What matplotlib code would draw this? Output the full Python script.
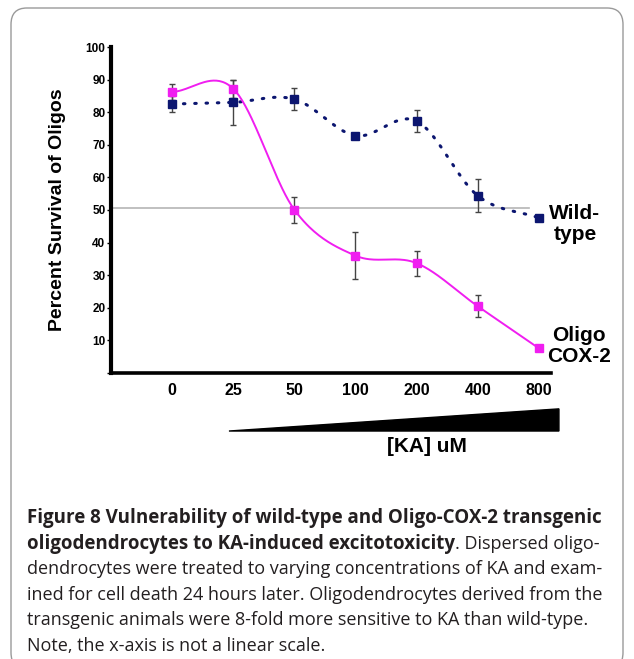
import numpy as np
import matplotlib
matplotlib.use('Agg')
import matplotlib.pyplot as plt
from matplotlib.patches import FancyBboxPatch, Polygon
import matplotlib.transforms as mtransforms

# KA concentrations (uM), plotted as equally spaced categories
ka_labels = ['0', '25', '50', '100', '200', '400', '800']

wild_type = [82.5, 83.0, 84.0, 72.8, 77.3, 54.4, 47.6]
wild_type_err = [2.5, 7.0, 3.4, 0.5, 3.3, 5.0, 0.5]

oligo_cox2 = [86.2, 87.2, 50.1, 36.0, 33.7, 20.5, 7.6]
oligo_cox2_err = [2.5, 2.7, 4.0, 7.2, 3.8, 3.3, 0.6]

half_line = 50.6

caption_lines = [
    [('Figure 8 Vulnerability of wild-type and Oligo-COX-2 transgenic', 'bold')],
    [('oligodendrocytes to KA-induced excitotoxicity', 'bold'), ('. Dispersed oligo-', 'normal')],
    [('dendrocytes were treated to varying concentrations of KA and exam-', 'normal')],
    [('ined for cell death 24 hours later. Oligodendrocytes derived from the', 'normal')],
    [('transgenic animals were 8-fold more sensitive to KA than wild-type.', 'normal')],
    [('Note, the x-axis is not a linear scale.', 'normal')],
]

MAGENTA = '#f01ef0'
NAVY = '#0c1670'
ARIAL = 'Liberation Sans'


def smooth(xs, ys, n=40):
    # cubic hermite (catmull-rom) just for the drawn curve
    xs = np.asarray(xs, float)
    ys = np.asarray(ys, float)
    m = np.zeros_like(ys)
    m[1:-1] = (ys[2:] - ys[:-2]) / 2.0
    m[0] = ys[1] - ys[0]
    m[-1] = ys[-1] - ys[-2]
    out_x, out_y = [], []
    for i in range(len(xs) - 1):
        t = np.linspace(0, 1, n, endpoint=(i == len(xs) - 2))
        h00 = 2 * t**3 - 3 * t**2 + 1
        h10 = t**3 - 2 * t**2 + t
        h01 = -2 * t**3 + 3 * t**2
        h11 = t**3 - t**2
        out_x.append(xs[i] + t * (xs[i + 1] - xs[i]))
        out_y.append(h00 * ys[i] + h10 * m[i] + h01 * ys[i + 1] + h11 * m[i + 1])
    return np.concatenate(out_x), np.concatenate(out_y)


fig = plt.figure(figsize=(6.34, 6.59), dpi=100)
W, H = 634.0, 659.0

# rounded frame
frame = FancyBboxPatch((11 / W, -10 / H), 612 / W, 661 / H,
                       boxstyle='round,pad=0,rounding_size=0.025',
                       transform=fig.transFigure, fill=False,
                       edgecolor='#9a9a9a', linewidth=1.0)
fig.patches.append(frame)

ax = fig.add_axes([111 / W, 1 - 373 / H, 440 / W, (373 - 47) / H])
x = np.arange(len(ka_labels))

ax.axhline(half_line, xmin=0, xmax=(529 - 111) / 440, color='#b5b5b5', lw=1.2, zorder=1)

sx, sy = smooth(x, wild_type)
ax.plot(sx, sy, color=NAVY, lw=2.2, linestyle=(0, (0.5, 3.2)), dash_capstyle='round', zorder=2)
sx, sy = smooth(x, oligo_cox2)
ax.plot(sx, sy, color=MAGENTA, lw=1.4, zorder=2)

ax.errorbar(x, wild_type, yerr=wild_type_err, fmt='none', ecolor='#444444',
            elinewidth=1.0, capsize=2.5, capthick=1.0, zorder=3)
ax.errorbar(x, oligo_cox2, yerr=oligo_cox2_err, fmt='none', ecolor='#444444',
            elinewidth=1.0, capsize=2.5, capthick=1.0, zorder=3)
ax.plot(x, wild_type, 's', color=NAVY, ms=6, mec=NAVY, zorder=4)
ax.plot(x, oligo_cox2, 's', color=MAGENTA, ms=6, mec=MAGENTA, zorder=4)

ax.set_xlim(-1, 6.2)
ax.set_ylim(0, 100)
ax.set_yticks(np.arange(0, 101, 10))
ax.set_yticklabels([''] + [str(v) for v in range(10, 101, 10)])
ax.set_xticks(x)
ax.set_xticklabels(ka_labels)
for s in ['top', 'right']:
    ax.spines[s].set_visible(False)
ax.spines['left'].set_linewidth(3.0)
ax.spines['bottom'].set_linewidth(2.6)
ax.tick_params(axis='y', length=3, width=1, pad=1, labelsize=8.5)
ax.tick_params(axis='x', length=0, pad=7, labelsize=11.5)
for lab in ax.get_yticklabels() + ax.get_xticklabels():
    lab.set_fontfamily(ARIAL)
    lab.set_fontweight('bold')
ax.set_facecolor('none')

ax.set_ylabel('Percent Survival of Oligos', fontfamily=ARIAL, fontweight='bold',
              fontsize=14, labelpad=14)

# series labels at the right end
fig.text(575 / W, 1 - 224 / H, 'Wild-\ntype', ha='center', va='center',
         fontfamily=ARIAL, fontweight='bold', fontsize=15, linespacing=1.1)
fig.text(579 / W, 1 - 346 / H, 'Oligo\nCOX-2', ha='center', va='center',
         fontfamily=ARIAL, fontweight='bold', fontsize=15, linespacing=1.1)

# concentration wedge
trans = mtransforms.blended_transform_factory(ax.transData, ax.transAxes)
wedge = Polygon([(0.93, -0.178), (6.33, -0.110), (6.33, -0.178)], closed=True,
                transform=trans, facecolor='black', edgecolor='black', lw=1, clip_on=False)
ax.add_patch(wedge)
fig.text(427 / W, 1 - 447 / H, '[KA] uM', ha='center', va='center',
         fontfamily=ARIAL, fontweight='bold', fontsize=15)

# caption, bold run followed by regular run on the same line
cap_size = {'bold': 13.5, 'normal': 12.95}
y0 = 518
for i, parts in enumerate(caption_lines):
    yy = 1 - (y0 + i * 25.6) / H
    prev = None
    for txt, wt in parts:
        kw = dict(fontfamily='Open Sans', fontsize=cap_size[wt], fontweight=wt,
                  color='#231f20', va='center', ha='left')
        if prev is None:
            prev = fig.text(27 / W, yy, txt, **kw)
        else:
            prev = fig.add_artist(plt.Annotation(txt, xy=(1, 0.5), xycoords=prev, **kw))

fig.savefig('out.png', dpi=100)
